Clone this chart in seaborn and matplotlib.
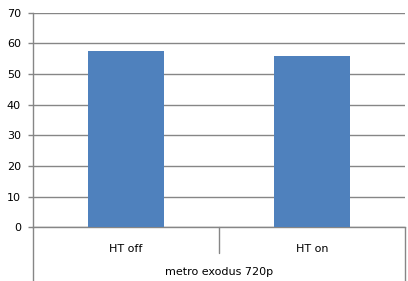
import matplotlib
matplotlib.use("Agg")
import matplotlib.pyplot as plt
import seaborn as sns
import pandas as pd

categories = ["HT off", "HT on"]
values = [57.5, 55.9]
group_label = "metro exodus 720p"
yticks = [0, 10, 20, 30, 40, 50, 60, 70]

sns.set_style("white")
plt.rcParams["font.family"] = ["DejaVu Sans"]

df = pd.DataFrame({"setting": categories, "fps": values})

fig = plt.figure(figsize=(4.08, 2.81), dpi=100)
ax = fig.add_axes([33 / 408, (281 - 227.3) / 281, 372 / 408, 214.6 / 281])

sns.barplot(data=df, x="setting", y="fps", color="#4F81BD", saturation=1,
            width=0.405, ax=ax, zorder=3, linewidth=0, edgecolor="none")

grid_c = "#868686"
ax.set_ylim(0, 70)
ax.set_xlim(-0.5, 1.5)
ax.set_yticks(yticks)
ax.set_yticklabels([str(v) for v in yticks], fontsize=8, color="black")
ax.yaxis.grid(True, color=grid_c, linewidth=1)
ax.set_axisbelow(True)
ax.tick_params(axis="y", length=3.6, width=1, color=grid_c, pad=5, left=True)
ax.tick_params(axis="x", length=0, pad=12)
ax.set_xticks(range(len(categories)))
ax.set_xticklabels(categories, fontsize=8, color="black")
ax.set_xlabel("")
ax.set_ylabel("")

for s in ["top", "right"]:
    ax.spines[s].set_visible(False)
ax.spines["left"].set_color(grid_c)
ax.spines["bottom"].set_color(grid_c)
ax.spines["left"].set_linewidth(1)
ax.spines["bottom"].set_linewidth(1)

bottom_ax = -(281 - 227.3) / 214.6
div_ax = -(253 - 227.3) / 214.6
kw = dict(transform=ax.transAxes, clip_on=False, color=grid_c, linewidth=1)
ax.plot([0, 0], [0, bottom_ax], **kw)
ax.plot([1, 1], [0, bottom_ax], **kw)
ax.plot([0.5, 0.5], [0, div_ax], **kw)

ax.text(0.5, -(272 - 227.3) / 214.6, group_label, transform=ax.transAxes,
        ha="center", va="center", fontsize=8, color="black")

fig.savefig("out.png", dpi=100)
